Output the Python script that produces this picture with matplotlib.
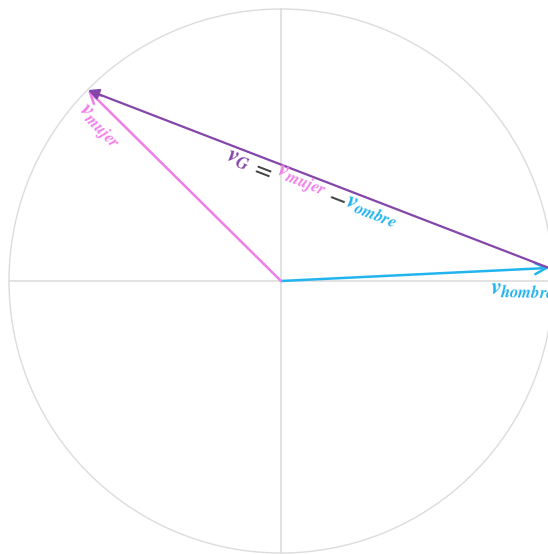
import numpy as np
import matplotlib
matplotlib.use("Agg")
import matplotlib.pyplot as plt

plt.rcParams['mathtext.fontset'] = 'custom'
plt.rcParams['mathtext.it'] = 'STIXGeneral:italic:bold'
plt.rcParams['mathtext.rm'] = 'STIXGeneral:bold'

# vectores (circulo unitario)
v_hombre = np.array([0.985, 0.048])
v_mujer = np.array([-0.71, 0.702])
v_G = v_mujer - v_hombre

c_hombre = '#22b4ee'
c_mujer = '#f07ee8'
c_G = '#8446aa'
c_txt = '#444444'

fig = plt.figure(figsize=(5.48, 5.54), dpi=100)
ax = fig.add_axes([0, 0, 1, 1])
R = 272.0
ax.set_xlim(-281 / R, 267 / R)
ax.set_ylim(-273 / R, 281 / R)
ax.axis('off')

# circulo y ejes
t = np.linspace(0, 2 * np.pi, 400)
ax.plot(np.cos(t), np.sin(t), color='#dcdcdc', lw=1.0, zorder=1)
ax.plot([-1, 1], [0, 0], color='#dddddd', lw=1.2, zorder=1)
ax.plot([0, 0], [-1, 1], color='#dddddd', lw=1.2, zorder=1)

# flechas
ax.annotate('', xy=v_hombre, xytext=(0, 0), annotation_clip=False,
            arrowprops=dict(arrowstyle='->', color=c_hombre, lw=1.8,
                            mutation_scale=20, shrinkA=0, shrinkB=0))
ax.annotate('', xy=v_mujer, xytext=(0, 0), annotation_clip=False,
            arrowprops=dict(arrowstyle='->', color=c_mujer, lw=1.8,
                            mutation_scale=20, shrinkA=0, shrinkB=0))
ax.annotate('', xy=v_hombre + v_G, xytext=v_hombre, annotation_clip=False,
            arrowprops=dict(arrowstyle='-|>', color=c_G, lw=1.6,
                            mutation_scale=16, shrinkA=0, shrinkB=0))

# etiquetas
fs = 17
ang_m = np.degrees(np.arctan2(-v_mujer[1], -v_mujer[0]))
ax.text(-183 / R, 154 / R, r'$v_{mujer}$', color=c_mujer, fontsize=fs,
        rotation=ang_m, rotation_mode='anchor', ha='center', va='center')

ax.text(209 / R, -8 / R, r'$v_{hombre}$', color=c_hombre, fontsize=fs,
        ha='left', va='center', rotation=-1)

ang_G = np.degrees(np.arctan2(-v_G[1], -v_G[0]))
d = -v_G / np.linalg.norm(v_G)
base = np.array([-42 / R, 123 / R])
piezas = [(r'$v_G$', c_G, 0), (r'$=$', c_txt, 25), (r'$v_{mujer}$', c_mujer, 66),
          (r'$-$', c_txt, 106), (r'$v_{ombre}$', c_hombre, 143)]
for s, col, off in piezas:
    p = base + d * off / R
    ax.text(p[0], p[1], s, color=col, fontsize=fs, rotation=ang_G,
            rotation_mode='anchor', ha='center', va='center')

fig.savefig('out.png', dpi=100)
